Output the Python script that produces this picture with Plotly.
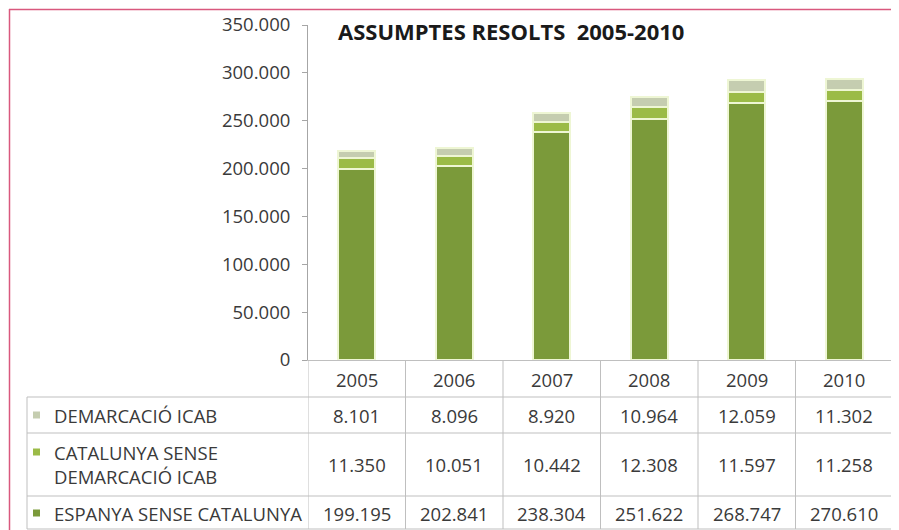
import plotly.graph_objects as go

years = ["2005", "2006", "2007", "2008", "2009", "2010"]
series_names = ["ESPANYA SENSE CATALUNYA", "CATALUNYA SENSE DEMARCACIÓ ICAB", "DEMARCACIÓ ICAB"]
table_labels = ["DEMARCACIÓ ICAB", "CATALUNYA SENSE<br>DEMARCACIÓ ICAB", "ESPANYA SENSE CATALUNYA"]
espanya = [199195, 202841, 238304, 251622, 268747, 270610]
catalunya = [11350, 10051, 10442, 12308, 11597, 11258]
demarcacio = [8101, 8096, 8920, 10964, 12059, 11302]
colors = ["#7b9a3a", "#9bbb47", "#c5cdb0"]
title_text = "ASSUMPTES RESOLTS\u00a0\u00a02005-2010"

# page is shown with the browser's default 8px body margin
OFF = 8
PAGE_W, PAGE_H = 899, 530
W, H = PAGE_W - OFF, PAGE_H - OFF
PLOT_L, PLOT_R, PLOT_T, PLOT_B = 308, 893, 25, 360  # page pixels
ML, MR, MT, MB = PLOT_L - OFF, PAGE_W - PLOT_R, PLOT_T - OFF, PAGE_H - PLOT_B
PW = PLOT_R - PLOT_L
PH = PLOT_B - PLOT_T


def px_x(px):
    return (px - PLOT_L) / PW


def px_y(py):
    return (PLOT_B - py) / PH


def fmt(v):
    return f"{v:,}".replace(",", ".")


fig = go.Figure()
for name, vals, col in zip(series_names, [espanya, catalunya, demarcacio], colors):
    fig.add_trace(go.Bar(
        x=years, y=vals, name=name, width=0.38,
        marker=dict(color=col, line=dict(color="#eef6d4", width=2)),
        showlegend=False,
    ))

grid = "#bfbfbf"
shapes = []
# pink frame
shapes.append(dict(type="line", xref="paper", yref="paper", x0=px_x(9), x1=px_x(PAGE_W + 5),
                   y0=px_y(9.5), y1=px_y(9.5), line=dict(color="#d9587e", width=1.5)))
shapes.append(dict(type="line", xref="paper", yref="paper", x0=px_x(9.5), x1=px_x(9.5),
                   y0=px_y(9), y1=px_y(PAGE_H + 5), line=dict(color="#d9587e", width=1.5)))
# table horizontal lines
for py in [397, 433, 496, 529]:
    shapes.append(dict(type="line", xref="paper", yref="paper", x0=px_x(27), x1=1,
                       y0=px_y(py), y1=px_y(py), line=dict(color=grid, width=1)))
# table left border
shapes.append(dict(type="line", xref="paper", yref="paper", x0=px_x(27), x1=px_x(27),
                   y0=px_y(397), y1=px_y(529), line=dict(color=grid, width=1)))
# vertical column lines
for i in range(len(years) + 1):
    shapes.append(dict(type="line", xref="x", yref="paper", x0=i - 0.5, x1=i - 0.5,
                       y0=0, y1=px_y(529), line=dict(color=grid, width=1)))

annotations = []
FS = 18.5
font_txt = dict(family="Open Sans", size=FS, color="#3a3a3a")
for i, yr in enumerate(years):
    annotations.append(dict(x=i, xref="x", y=px_y(379), yref="paper", text=yr, showarrow=False,
                            font=font_txt, xanchor="center", yanchor="middle"))

row_centers = [415, 464, 513]
first_line = [415, 452, 513]
row_vals = [demarcacio, catalunya, espanya]
row_cols = [colors[2], colors[1], colors[0]]
for lab, vals, yc, yl, col in zip(table_labels, row_vals, row_centers, first_line, row_cols):
    annotations.append(dict(x=px_x(52), xref="paper", y=px_y(yc), yref="paper", text=lab,
                            showarrow=False, font=font_txt, xanchor="left", yanchor="middle",
                            align="left"))
    shapes.append(dict(type="rect", xref="paper", yref="paper", x0=px_x(33), x1=px_x(40),
                       y0=px_y(yl - 3.5), y1=px_y(yl + 3.5), fillcolor=col, line=dict(width=0)))
    for i, v in enumerate(vals):
        annotations.append(dict(x=i, xref="x", y=px_y(yc), yref="paper", text=fmt(v),
                                showarrow=False, font=font_txt, xanchor="center",
                                yanchor="middle"))

annotations.append(dict(x=px_x(336), xref="paper", y=px_y(30.5), yref="paper",
                        text="<b>" + title_text + "</b>", showarrow=False,
                        font=dict(family="Open Sans", size=22, color="#1a1a1a"),
                        xanchor="left", yanchor="middle"))

fig.update_layout(
    width=W, height=H,
    margin=dict(l=ML, r=MR, t=MT, b=MB, autoexpand=False),
    paper_bgcolor="white", plot_bgcolor="white",
    barmode="stack",
    separators=",.",
    shapes=shapes, annotations=annotations,
    xaxis=dict(type="category", showticklabels=False, ticks="", showline=True,
               linecolor=grid, linewidth=1, showgrid=False, zeroline=False,
               range=[-0.5, len(years) - 0.5]),
    yaxis=dict(range=[0, 350000], dtick=50000, tickformat=",d", showgrid=False,
               zeroline=False, showline=True, linecolor="#a6a6a6", linewidth=1,
               ticks="outside", ticklen=5, tickcolor="#a6a6a6",
               tickfont=dict(family="Open Sans", size=FS, color="#3a3a3a"),
               ticklabelstandoff=8),
)

fig.write_html("out.html")
